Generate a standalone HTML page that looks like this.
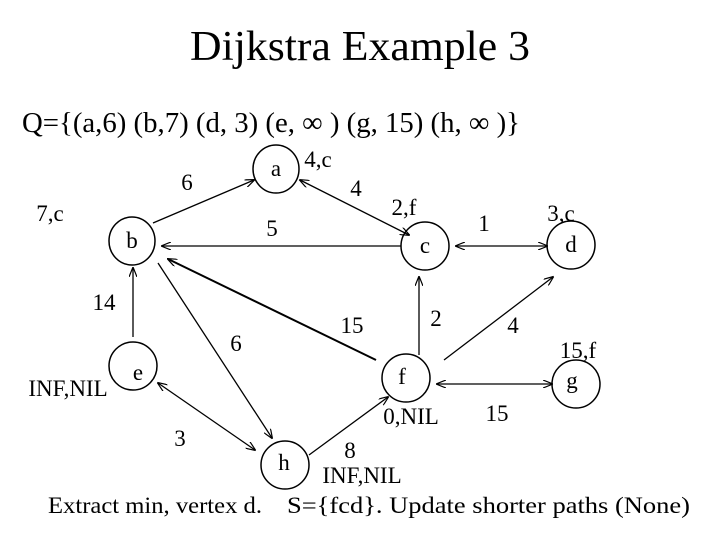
<!DOCTYPE html>
<html><head><style>
body{margin:0;background:#fff;}
svg{display:block;font-family:"Liberation Serif",serif;}
</style></head><body>
<svg width="720" height="540" viewBox="0 0 720 540" xmlns="http://www.w3.org/2000/svg">
<defs>
<marker id="ar" markerWidth="10" markerHeight="8" refX="9" refY="4" orient="auto-start-reverse" markerUnits="userSpaceOnUse">
<path d="M0,0 L10,4 L0,8" fill="none" stroke="#000" stroke-width="1.2"/>
</marker>
</defs>
<text x="360" y="60" font-size="42" text-anchor="middle" textLength="340" lengthAdjust="spacingAndGlyphs">Dijkstra Example 3</text>
<text x="22" y="132" font-size="29" textLength="498" lengthAdjust="spacingAndGlyphs">Q={(a,6) (b,7) (d, 3) (e,  ∞ ) (g, 15) (h,  ∞ )}</text>
<g fill="none" stroke="#000" stroke-width="1.5">
<ellipse cx="276" cy="169" rx="23" ry="24"/>
<ellipse cx="132" cy="241" rx="23" ry="24"/>
<ellipse cx="425" cy="246" rx="24" ry="24"/>
<ellipse cx="571" cy="245" rx="24" ry="24"/>
<ellipse cx="133" cy="366" rx="24" ry="24"/>
<ellipse cx="406" cy="378" rx="24" ry="24"/>
<ellipse cx="576" cy="384" rx="24" ry="24"/>
<ellipse cx="285" cy="465" rx="24" ry="24"/>
</g>
<g fill="none" stroke="#000" stroke-width="1.3">
<line x1="153" y1="223" x2="254" y2="180" marker-end="url(#ar)"/>
<line x1="409" y1="235" x2="300" y2="180" marker-end="url(#ar)" marker-start="url(#ar)"/>
<line x1="401" y1="246" x2="162" y2="246" marker-end="url(#ar)"/>
<line x1="456" y1="246" x2="547" y2="246" marker-end="url(#ar)" marker-start="url(#ar)"/>
<line x1="133" y1="337" x2="133" y2="268" marker-end="url(#ar)"/>
<line x1="158" y1="263" x2="272" y2="438" marker-end="url(#ar)"/>
<line x1="376" y1="360" x2="168" y2="259" marker-end="url(#ar)" stroke-width="2"/>
<line x1="419" y1="355" x2="419" y2="277" marker-end="url(#ar)"/>
<line x1="444" y1="360" x2="553" y2="277" marker-end="url(#ar)"/>
<line x1="437" y1="384" x2="552" y2="384" marker-end="url(#ar)" marker-start="url(#ar)"/>
<line x1="158" y1="383" x2="255" y2="450" marker-end="url(#ar)" marker-start="url(#ar)"/>
<line x1="309" y1="455" x2="388" y2="397" marker-end="url(#ar)"/>
</g>
<g font-size="23" text-anchor="middle">
<text x="276" y="176">a</text>
<text x="132" y="248">b</text>
<text x="425" y="253">c</text>
<text x="571" y="252">d</text>
<text x="138" y="380">e</text>
<text x="402" y="384">f</text>
<text x="572" y="388">g</text>
<text x="284" y="470">h</text>
<text x="318" y="167">4,c</text>
<text x="187" y="190">6</text>
<text x="356" y="196">4</text>
<text x="404" y="215">2,f</text>
<text x="50" y="221">7,c</text>
<text x="272" y="236">5</text>
<text x="484" y="231">1</text>
<text x="561" y="221">3,c</text>
<text x="104" y="310">14</text>
<text x="352" y="333">15</text>
<text x="436" y="326">2</text>
<text x="513" y="333">4</text>
<text x="236" y="351">6</text>
<text x="578" y="358">15,f</text>
<text x="68" y="396">INF,NIL</text>
<text x="411" y="424">0,NIL</text>
<text x="497" y="421">15</text>
<text x="180" y="446">3</text>
<text x="350" y="458">8</text>
<text x="362" y="483">INF,NIL</text>
</g>
<text x="48" y="513" font-size="23" textLength="214" lengthAdjust="spacingAndGlyphs">Extract min, vertex d.</text>
<text x="287" y="513" font-size="23" textLength="403" lengthAdjust="spacingAndGlyphs">S={fcd}.  Update shorter paths (None)</text>
</svg>
</body></html>
